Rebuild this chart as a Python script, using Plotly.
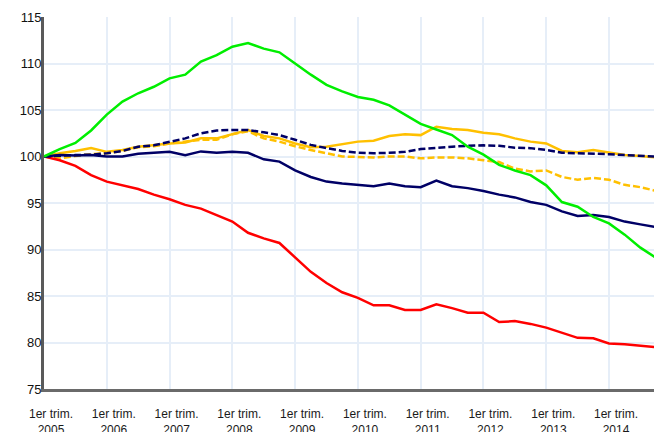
import plotly.graph_objects as go

years = list(range(2005, 2015))
quarters = list(range(40))
tick_labels = [f"1er trim.<br>{y}" for y in years]

green = [100.0, 100.8, 101.45, 102.8, 104.5, 105.9, 106.8, 107.5, 108.4, 108.8,
         110.2, 110.9, 111.8, 112.2, 111.6, 111.2, 110.0, 108.8, 107.7, 107.0,
         106.4, 106.1, 105.5, 104.5, 103.5, 102.9, 102.3, 101.05, 100.2, 99.1,
         98.5, 98.0, 96.9, 95.1, 94.6, 93.5, 92.8, 91.6, 90.2, 89.1]
red = [100.0, 99.6, 99.0, 98.0, 97.3, 96.9, 96.5, 95.9, 95.4, 94.8,
       94.4, 93.7, 93.0, 91.8, 91.2, 90.7, 89.1, 87.6, 86.4, 85.4,
       84.8, 84.0, 84.0, 83.5, 83.5, 84.1, 83.7, 83.2, 83.2, 82.2,
       82.3, 82.0, 81.6, 81.05, 80.5, 80.45, 79.9, 79.8, 79.65, 79.5]
navy = [100.0, 100.15, 100.1, 100.15, 100.0, 100.0, 100.3, 100.4, 100.5, 100.15,
        100.55, 100.4, 100.5, 100.4, 99.7, 99.45, 98.5, 97.8, 97.3, 97.1,
        96.95, 96.8, 97.1, 96.8, 96.7, 97.4, 96.8, 96.6, 96.3, 95.9,
        95.6, 95.1, 94.8, 94.1, 93.6, 93.7, 93.5, 93.0, 92.7, 92.4]
navy_dash = [100.0, 100.1, 100.15, 100.2, 100.35, 100.6, 101.05, 101.2, 101.6, 101.95,
             102.5, 102.8, 102.85, 102.85, 102.6, 102.3, 101.8, 101.25, 100.9, 100.6,
             100.4, 100.35, 100.4, 100.5, 100.8, 100.95, 101.05, 101.15, 101.2, 101.15,
             100.95, 100.9, 100.7, 100.4, 100.35, 100.35, 100.25, 100.15, 100.1, 100.0]
gold = [100.0, 100.35, 100.6, 100.9, 100.5, 100.7, 101.05, 101.25, 101.4, 101.5,
        101.95, 101.95, 102.4, 102.85, 102.2, 101.95, 101.4, 101.0, 101.05, 101.35,
        101.6, 101.7, 102.2, 102.4, 102.3, 103.2, 102.95, 102.85, 102.55, 102.4,
        101.95, 101.6, 101.4, 100.6, 100.45, 100.7, 100.45, 100.15, 100.05, 99.9]
gold_dash = [100.0, 99.8, 100.05, 100.25, 100.35, 100.6, 101.0, 101.1, 101.4, 101.6,
             101.8, 101.8, 102.4, 102.7, 101.95, 101.6, 101.1, 100.7, 100.35, 100.0,
             99.95, 99.9, 100.0, 100.0, 99.8, 99.9, 99.9, 99.8, 99.6, 99.4,
             98.7, 98.4, 98.5, 97.8, 97.5, 97.7, 97.5, 96.95, 96.7, 96.3]

series = [
    (gold_dash, "#ffc000", "7px,3px"),
    (gold, "#ffc000", "solid"),
    (red, "#ff0000", "solid"),
    (navy, "#000066", "solid"),
    (navy_dash, "#000066", "7px,3px"),
    (green, "#00ee00", "solid"),
]

fig = go.Figure()
for vals, color, dash in series:
    fig.add_trace(go.Scatter(x=quarters, y=vals, mode="lines",
                             line=dict(color=color, width=2.5, dash=dash),
                             showlegend=False, hoverinfo="skip"))

# The page body adds an 8px margin, so the figure is sized to the remaining space.
fig.update_layout(
    width=654, height=424,
    margin=dict(l=36, r=2, t=9, b=43),
    paper_bgcolor="white", plot_bgcolor="white",
    font=dict(family="Liberation Sans, Arial, sans-serif", color="#111"),
)
fig.update_xaxes(
    range=[0, 39.25],
    automargin=False,
    tickvals=[4 * k for k in range(len(years))],
    ticktext=tick_labels,
    tickfont=dict(size=12, color="#1a1a1a"),
    ticklabelshift=7,
    ticks="outside", ticklen=12, tickcolor="rgba(0,0,0,0)",
    showgrid=True, gridcolor="#e6eef8", gridwidth=2,
    showline=True, linecolor="#6a6a6a", linewidth=3,
    zeroline=False,
)
fig.update_yaxes(
    range=[75, 115],
    automargin=False,
    tickvals=[75, 80, 85, 90, 95, 100, 105, 110, 115],
    tickfont=dict(size=13, color="#111"),
    ticklabelstandoff=-3,
    showgrid=True, gridcolor="#e6eef8", gridwidth=2,
    showline=True, linecolor="#5a5a5a", linewidth=3,
    zeroline=False,
)

fig.write_html("out.html")
